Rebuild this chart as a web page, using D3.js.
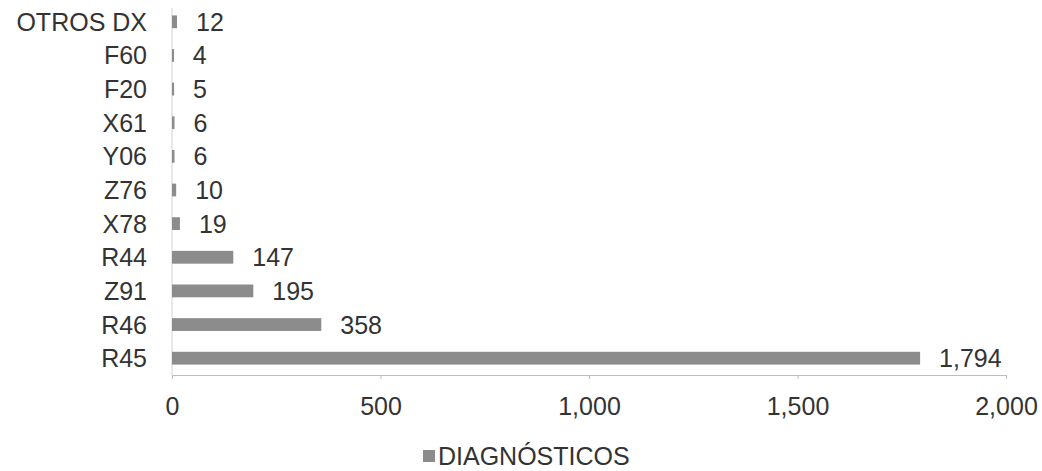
<!DOCTYPE html>
<html>
<head>
<meta charset="utf-8">
<script src="https://cdn.jsdelivr.net/npm/d3@7"></script>
<style>
  body { margin: 0; background: #fff; }
  text { font-family: "Liberation Sans", Arial, sans-serif; fill: #333; }
</style>
</head>
<body>
<svg id="chart" width="1042" height="471"></svg>
<script>
// categories top to bottom
categories = ["OTROS DX", "F60", "F20", "X61", "Y06", "Z76", "X78", "R44", "Z91", "R46", "R45"];
values = [12, 4, 5, 6, 6, 10, 19, 147, 195, 358, 1794];
xTicks = [0, 500, 1000, 1500, 2000];
seriesName = "DIAGNÓSTICOS";

let svg = d3.select("#chart");

let x = d3.scaleLinear()
    .domain([0, 2000])
    .range([172, 1006]);

let y = d3.scaleBand()
    .domain(categories)
    .range([5, 375])
    .paddingInner(0.62)
    .paddingOuter(0.31);

let fmt = d3.format(",");

// vertical axis line
svg.append("line")
    .attr("x1", x(0)).attr("x2", x(0))
    .attr("y1", 8).attr("y2", 375)
    .style("stroke", "#d2d2d2")
    .style("stroke-width", 1);

// x axis
let xAxis = d3.axisBottom(x)
    .tickValues(xTicks)
    .tickSize(4)
    .tickFormat(fmt);
let ax = svg.append("g")
    .attr("transform", "translate(0,375)")
    .call(xAxis);
ax.select(".domain").style("stroke", "#bdbdbd");
ax.selectAll(".tick line").style("stroke", "#bdbdbd");
ax.selectAll(".tick text")
    .attr("y", 0)
    .attr("dy", 40)
    .style("font-size", "25px")
    .style("fill", "#333");

// bars
let data = categories.map((c, i) => ({cat: c, val: values[i]}));

svg.append("g").selectAll("rect")
    .data(data).enter()
    .append("rect")
    .attr("x", x(0))
    .attr("y", d => y(d.cat))
    .attr("width", d => Math.max(2, x(d.val) - x(0)))
    .attr("height", y.bandwidth())
    .style("fill", "#8c8c8c");

// category labels
svg.append("g").selectAll("text")
    .data(data).enter()
    .append("text")
    .attr("x", 147)
    .attr("y", d => y(d.cat) + y.bandwidth() / 2)
    .attr("dy", "0.36em")
    .attr("text-anchor", "end")
    .style("font-size", "25px")
    .text(d => d.cat);

// value labels
svg.append("g").selectAll("text")
    .data(data).enter()
    .append("text")
    .attr("x", d => x(d.val) + 19)
    .attr("y", d => y(d.cat) + y.bandwidth() / 2)
    .attr("dy", "0.36em")
    .style("font-size", "25px")
    .text(d => fmt(d.val));

// legend
let legend = svg.append("g").attr("transform", "translate(423,456)");
legend.append("rect")
    .attr("x", 0).attr("y", -6)
    .attr("width", 12).attr("height", 12)
    .style("fill", "#8c8c8c");
legend.append("text")
    .attr("x", 15)
    .attr("y", 0)
    .attr("dy", "0.36em")
    .style("font-size", "25px")
    .text(seriesName);
</script>
</body>
</html>
